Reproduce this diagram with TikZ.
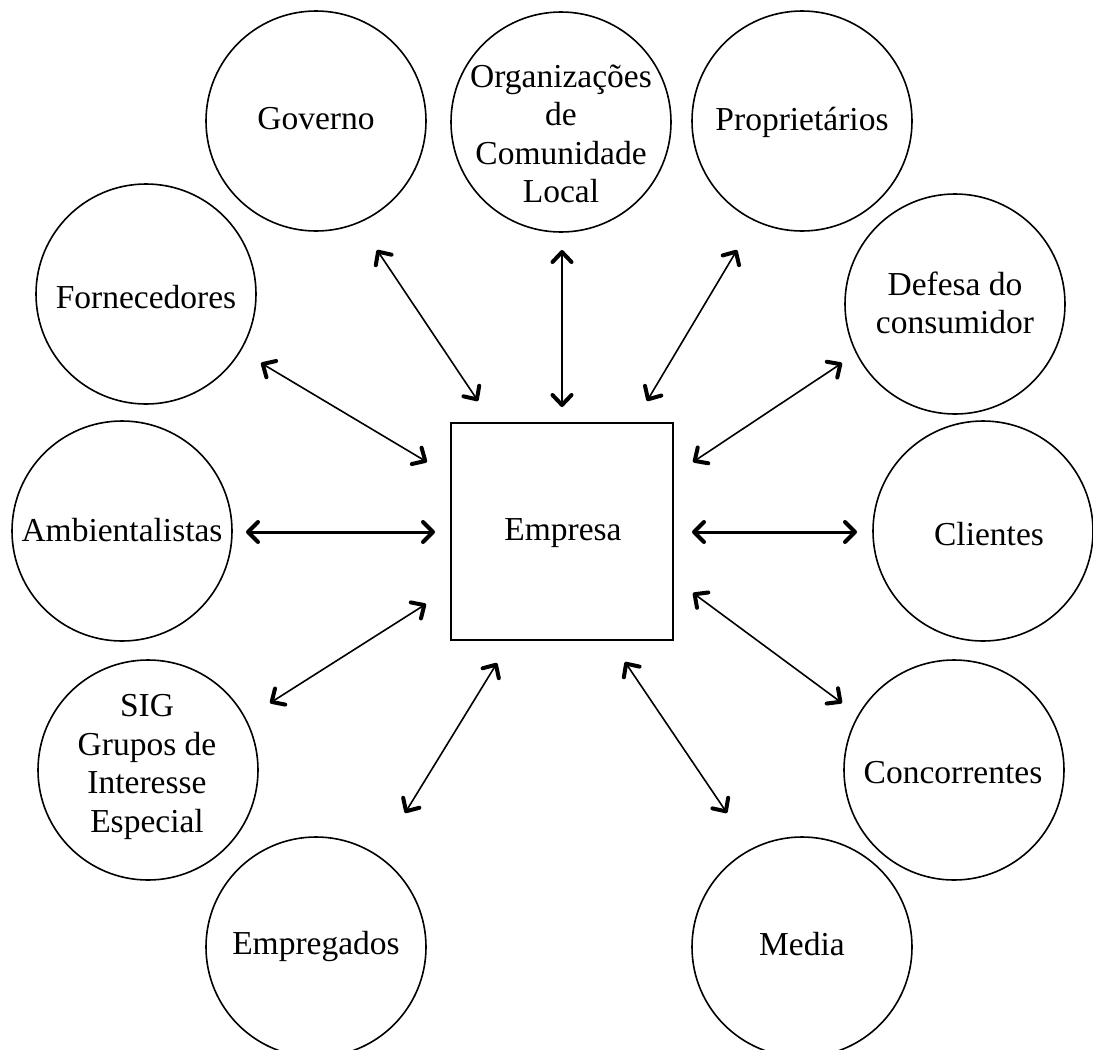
\documentclass[tikz,border=0pt]{standalone}
\usepackage{fontspec}
\setmainfont{Liberation Serif}
\usetikzlibrary{arrows.meta}
\begin{document}
\begin{tikzpicture}[x=1pt,y=-1pt,
  stake/.style={circle,draw,line width=1.6pt,minimum size=220pt,inner sep=0pt},
  firm/.style={rectangle,draw,line width=2pt,minimum width=222pt,minimum height=217pt,inner sep=0pt},
  lbl/.style={align=center,font=\fontsize{33.5}{38.5}\selectfont,inner sep=0pt},
  link/.style={line width=1.6pt,
    arrows={Straight Barb[length=10pt,width=19pt,line width=4pt,round]-Straight Barb[length=10pt,width=19pt,line width=4pt,round]}},
  heavy/.style={line width=3pt,
    arrows={Straight Barb[length=10pt,width=20pt,line width=4pt,round]-Straight Barb[length=10pt,width=20pt,line width=4pt,round]}}]
\useasboundingbox (0,0) rectangle (1093,1050);

% central company
\node[firm] (emp0) at (562,531.5) {};
\node[lbl] (emp0-t) at (563,533) {Empresa};

% stakeholder circles
\node[stake] (gov)  at (316,121) {};
\node[stake] (org)  at (561,122) {};
\node[stake] (prop) at (802,121) {};
\node[stake] (forn) at (146,294) {};
\node[stake] (def)  at (955,304) {};
\node[stake] (amb)  at (122,531) {};
\node[stake] (cli)  at (983,531) {};
\node[stake] (sig)  at (148,770) {};
\node[stake] (conc) at (954,770) {};
\node[stake] (empr) at (316,947) {};
\node[stake] (med)  at (802,947) {};

% circle texts
\node[lbl] (gov-t)  at (316,119) {Governo};
\node[lbl] (org-t)  at (561,134) {Organizações\\de\\Comunidade\\Local};
\node[lbl] (prop-t) at (802,122) {Proprietários};
\node[lbl] (forn-t) at (146,297) {Fornecedores};
\node[lbl] (def-t)  at (955,303) {Defesa do\\consumidor};
\node[lbl] (amb-t)  at (122,530) {Ambientalistas};
\node[lbl] (cli-t)  at (989,534) {Clientes};
\node[lbl] (sig-t)  at (147,767) {SIG\\Grupos de\\Interesse\\Especial};
\node[lbl] (conc-t) at (953,773) {Concorrentes};
\node[lbl] (empr-t) at (316,946) {Empregados};
\node[lbl] (med-t)  at (802,944) {Media};

% arrow end points
\coordinate (gov-a)  at (377,250); \coordinate (gov-b)  at (478,401);
\coordinate (org-a)  at (562,250); \coordinate (org-b)  at (562,407);
\coordinate (prop-a) at (737,250); \coordinate (prop-b) at (647,401);
\coordinate (forn-a) at (261,363); \coordinate (forn-b) at (427,462);
\coordinate (def-a)  at (842,363); \coordinate (def-b)  at (693,462);
\coordinate (amb-a)  at (246,532); \coordinate (amb-b)  at (435,532);
\coordinate (cli-a)  at (857,532); \coordinate (cli-b)  at (692,532);
\coordinate (sig-a)  at (270,703); \coordinate (sig-b)  at (426,604);
\coordinate (conc-a) at (842,703); \coordinate (conc-b) at (693,593);
\coordinate (empr-a) at (405,813); \coordinate (empr-b) at (497,663);
\coordinate (med-a)  at (727,813); \coordinate (med-b)  at (625,662);

% two-way relations
\draw[link]  (gov-a)  -- (gov-b);
\draw[link]  (org-a)  -- (org-b);
\draw[link]  (prop-a) -- (prop-b);
\draw[link]  (forn-a) -- (forn-b);
\draw[link]  (def-a)  -- (def-b);
\draw[heavy] (amb-a)  -- (amb-b);
\draw[heavy] (cli-a)  -- (cli-b);
\draw[link]  (sig-a)  -- (sig-b);
\draw[link]  (conc-a) -- (conc-b);
\draw[link]  (empr-a) -- (empr-b);
\draw[link]  (med-a)  -- (med-b);
\end{tikzpicture}
\end{document}
